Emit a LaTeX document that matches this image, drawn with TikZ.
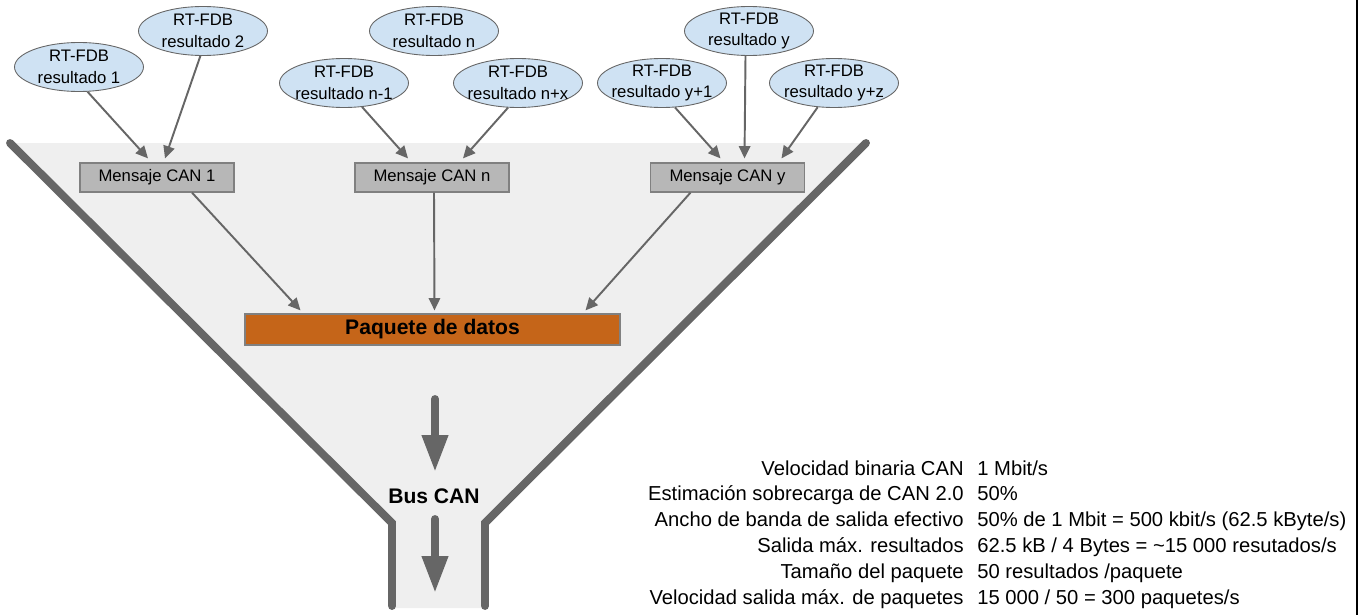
\documentclass[tikz,border=0pt]{standalone}
\usepackage{fontspec}
\setmainfont{Liberation Sans}
\usetikzlibrary{shapes.geometric,arrows.meta,calc}

\definecolor{linegray}{HTML}{666666}
\definecolor{funnelgray}{HTML}{EFEFEF}
\definecolor{resblue}{HTML}{CFE2F3}
\definecolor{boxgray}{HTML}{B7B7B7}
\definecolor{boxedge}{HTML}{808080}
\definecolor{paqorange}{RGB}{197,101,25}

\tikzset{
  resultado/.style={ellipse, draw=linegray, line width=0.5pt, fill=resblue,
    minimum width=2.58cm, minimum height=0.98cm, inner sep=-4pt, align=center,
    font=\fontsize{9.5}{12.2}\selectfont},
  mensaje/.style={rectangle, draw=boxedge, line width=0.7pt, fill=boxgray,
    minimum width=3.08cm, minimum height=0.58cm, inner sep=0pt,
    font=\fontsize{9.5}{11}\selectfont},
  flecha/.style={draw=linegray, line width=1.1pt, -{Triangle[length=7pt,width=6.5pt]}},
  pared/.style={draw=linegray, line width=4.5pt, line cap=round},
  flujo/.style={draw=linegray, line width=4.5pt, line cap=round,
    -{Triangle[length=21pt,width=14pt]}},
}

\begin{document}
\begin{tikzpicture}[x=0.02cm,y=-0.02cm]

    \useasboundingbox (0,0) rectangle (1369,615);

    % embudo
    \fill[funnelgray] (10,143) -- (866,143) -- (485,523) -- (485,608) -- (392,608) -- (392,523) -- cycle;
    \draw[pared] (10,143) -- (392,523) -- (392,606);
    \draw[pared] (866,143) -- (485,523) -- (485,606);

    % borde derecho
    \draw[black, line width=1pt] (1357,0) -- (1357,615);

    % resultados RT-FDB
    \node[resultado] (res1)  at (79,67)  {RT-FDB\\resultado 1};
    \node[resultado] (res2)  at (203,31) {RT-FDB\\resultado 2};
    \node[resultado] (resn)  at (434,31) {RT-FDB\\resultado n};
    \node[resultado] (resn1) at (344,83) {RT-FDB\\resultado n-1};
    \node[resultado] (resnx) at (518,83) {RT-FDB\\resultado n+x};
    \node[resultado] (resy1) at (662,83) {RT-FDB\\resultado y+1};
    \node[resultado] (resy)  at (749,31) {RT-FDB\\resultado y};
    \node[resultado] (resyz) at (834,83) {RT-FDB\\resultado y+z};

    % mensajes CAN
    \node[mensaje] (can1) at (157,177.5) {Mensaje CAN 1};
    \node[mensaje] (cann) at (432,177.5) {Mensaje CAN n};
    \node[mensaje] (cany) at (727.5,177.5) {Mensaje CAN y};

    \node[rectangle, draw=boxedge, line width=0.7pt, fill=paqorange, minimum width=7.5cm,
      minimum height=0.62cm, inner sep=0pt, font=\bfseries\fontsize{12}{14}\selectfont]
      (paquete) at (432.5,329.5) {Paquete de datos};

    \draw[flecha] (res1.-71) -- ($(can1.north)+(-9,-4)$);
    \draw[flecha] (res2.-96) -- ($(can1.north)+(8,-4)$);
    \draw[flecha] (resn1.-53) -- ($(cann.north)+(-24,-4)$);
    \draw[flecha] (resnx.-112) -- ($(cann.north)+(31,-4)$);
    \draw[flecha] (resy1.-62) -- ($(cany.north)+(-7,-4)$);
    \draw[flecha] (resy.-98) -- ($(cany.north)+(17,-4)$);
    \draw[flecha] (resyz.-124) -- ($(cany.north)+(54,-4)$);

    \draw[flecha] ($(can1.south)+(35,0)$) -- ($(paquete.north)+(-132,-3)$);
    \draw[flecha] ($(cann.south)+(2,0)$) -- ($(paquete.north)+(2,-3)$);
    \draw[flecha] ($(cany.south)+(-37,0)$) -- ($(paquete.north)+(153,-3)$);

    % flujo por el bus
    \coordinate (flujo1a) at (435,399);
    \coordinate (flujo1b) at (435,472);
    \coordinate (flujo2a) at (435,519);
    \coordinate (flujo2b) at (435,593);
    \draw[flujo] (flujo1a) -- (flujo1b);
    \draw[flujo] (flujo2a) -- (flujo2b);
    \node[font=\bfseries\fontsize{12}{14}\selectfont] (bus) at (434,496) {Bus CAN};

    % tabla de valores
    \node[anchor=base east, inner sep=0pt, font=\fontsize{11.5}{14.7}\selectfont] (specnombres) at (964,475) {%
      \begin{tabular}[t]{@{}r@{}}
        Velocidad binaria CAN\\
        Estimación sobrecarga de CAN 2.0\\
        Ancho de banda de salida efectivo\\
        Salida máx. resultados\\
        Tamaño del paquete\\
        Velocidad salida máx. de paquetes
      \end{tabular}};
    \node[anchor=base west, inner sep=0pt, font=\fontsize{11.5}{14.7}\selectfont] (specvalores) at (977,475) {%
      \begin{tabular}[t]{@{}l@{}}
        1 Mbit/s\\
        50\%\\
        50\% de 1 Mbit = 500 kbit/s (62.5 kByte/s)\\
        62.5 kB / 4 Bytes = \textasciitilde15 000 resutados/s\\
        50 resultados /paquete\\
        15 000 / 50 = 300 paquetes/s
      \end{tabular}};

\end{tikzpicture}
\end{document}
